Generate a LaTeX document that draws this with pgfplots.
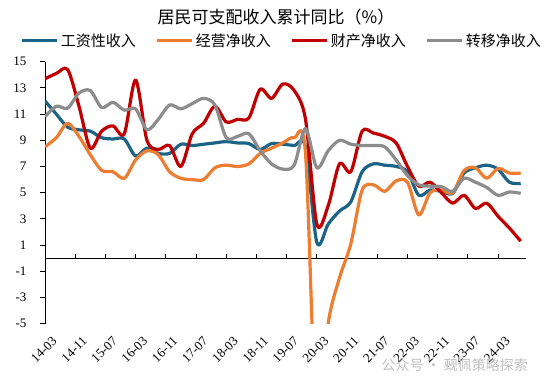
\documentclass[border=0pt]{standalone}
\usepackage{pgfplots}
\pgfplotsset{compat=1.18}
\usepackage{pgfplotstable}
\usepackage{fontspec}
\setmainfont{Liberation Serif}
\newfontfamily\cjk{Noto Sans CJK SC}
\definecolor{cblue}{RGB}{28,100,135}
\definecolor{corange}{RGB}{237,125,49}
\definecolor{cred}{RGB}{192,0,0}
\definecolor{cgray}{RGB}{140,140,140}

\pgfplotstableread{
m  wage  biz   prop  trans
0   12.0  8.5  13.7  10.8
3   11.0  9.2  14.1  11.6
6   10.0  10.3 14.4  11.45
9   9.8   9.3  11.6  12.6
12  9.7   7.9  8.4   12.8
15  9.2   6.7  9.7   11.5
18  9.1   6.6  10.1  11.9
21  9.1   6.1  9.5   11.3
24  7.8   7.5  13.6  11.4
27  8.4   8.2  9.0   9.8
30  8.0   7.9  8.3   10.6
33  8.0   6.6  8.6   11.7
36  8.7   6.1  7.0   11.4
39  8.6   6.0  9.5   11.8
42  8.7   6.0  10.3  12.2
45  8.8   6.9  11.6  11.7
48  8.9   7.1  10.4  9.2
51  8.8   7.0  10.6  9.3
54  8.75  7.2  10.7  9.5
57  8.3   8.0  12.9  8.2
60  8.75  8.4  12.2  7.2
63  8.7   8.8  13.3  6.8
66  8.6   9.2  12.8  7.1
69  8.5   8.0  10.6  9.9
72  1.2  -13.2 2.6   6.9
75  2.6  -5.0  4.0   8.2
78  3.6  -1.5  7.2   9.0
81  4.3   1.1  6.6   8.7
84  6.6   5.2  9.7   8.6
87  7.2   5.6  9.55  8.6
90  7.1   5.1  9.3   8.5
93  7.0   5.9  8.8   7.5
96  6.6   5.8  7.0   6.3
99  4.8   3.3  5.5   5.6
102 5.2   5.0  5.8   5.5
105 5.1   5.2  5.0   5.46
108 4.95  5.0  4.2   5.1
111 6.5   6.7  4.8   6.1
114 6.9   6.9  3.8   5.8
117 7.1   6.1  4.2   5.4
120 6.8   6.85 3.2   4.8
123 5.8   6.5  2.3   5.05
126 5.7   6.5  1.3   4.95
}\datatable

\begin{document}
\begin{tikzpicture}
\begin{axis}[
  scale only axis, width=481pt, height=262pt,
  xmin=0, xmax=127.4, ymin=-5, ymax=15,
  axis y line*=left, axis x line*=bottom,
  x axis line style={draw=none},
  y axis line style={black, line width=0.9pt},
  xtick={0,8,...,120},
  xticklabels={14-03,14-11,15-07,16-03,16-11,17-07,18-03,18-11,19-07,20-03,20-11,21-07,22-03,22-11,23-07,24-03},
  xtick style={draw=none},
  ytick={-5,-3,...,15},
  yticklabels={-5,-3,-1,1,3,5,7,9,11,13,15},
  ytick style={black, line width=0.9pt},
  tick align=outside,
  major tick length=5pt,
  ticklabel style={font=\fontsize{13}{15}\selectfont},
  xticklabel style={rotate=45, anchor=east, xshift=3pt, yshift=-14pt},
  yticklabel style={xshift=-10pt},
  legend columns=4,
  legend style={draw=none, fill=none, at={(0.4927,1.079)}, anchor=center,
    font=\cjk\fontsize{15}{17}\selectfont,
    /tikz/every even column/.append style={column sep=18pt}},
  legend image code/.code={\draw[#1, line width=3pt] (0pt,0pt) -- (35pt,0pt);},
  every axis plot/.append style={line width=3.2pt, smooth, tension=0.5, line join=round},
  clip=true,
]
\draw[black, line width=1pt] (axis cs:0,0) -- (axis cs:127.4,0);
\pgfplotsinvokeforeach{8,16,24,32,40,48,56,64,72,80,88,96,104,112,120}{
  \draw[black, line width=0.9pt] (axis cs:#1,0) -- ++(0pt,4.5pt);
}
\addplot[cblue] table[x=m, y=wage] {\datatable};
\addlegendentry{工资性收入}
\addplot[corange] table[x=m, y=biz] {\datatable};
\addlegendentry{经营净收入}
\addplot[cred] table[x=m, y=prop] {\datatable};
\addlegendentry{财产净收入}
\addplot[cgray] table[x=m, y=trans] {\datatable};
\addlegendentry{转移净收入}
\coordinate (bl) at (rel axis cs:0,0);
\coordinate (tr) at (rel axis cs:1,1);
\end{axis}
\node[font=\cjk\fontsize{17}{19}\selectfont] at ([shift={(-250pt,44.7pt)}]tr) {居民可支配收入累计同比（\%）};
\node[font=\cjk\fontsize{14}{16}\selectfont, text=black!25, anchor=west] at ([shift={(333pt,-41pt)}]bl) {公众号 · 觋佩策略探索};
\pgfresetboundingbox
\path ([shift={(-45pt,-63.4pt)}]bl) rectangle ([shift={(24pt,61.7pt)}]tr);
\end{tikzpicture}
\end{document}
